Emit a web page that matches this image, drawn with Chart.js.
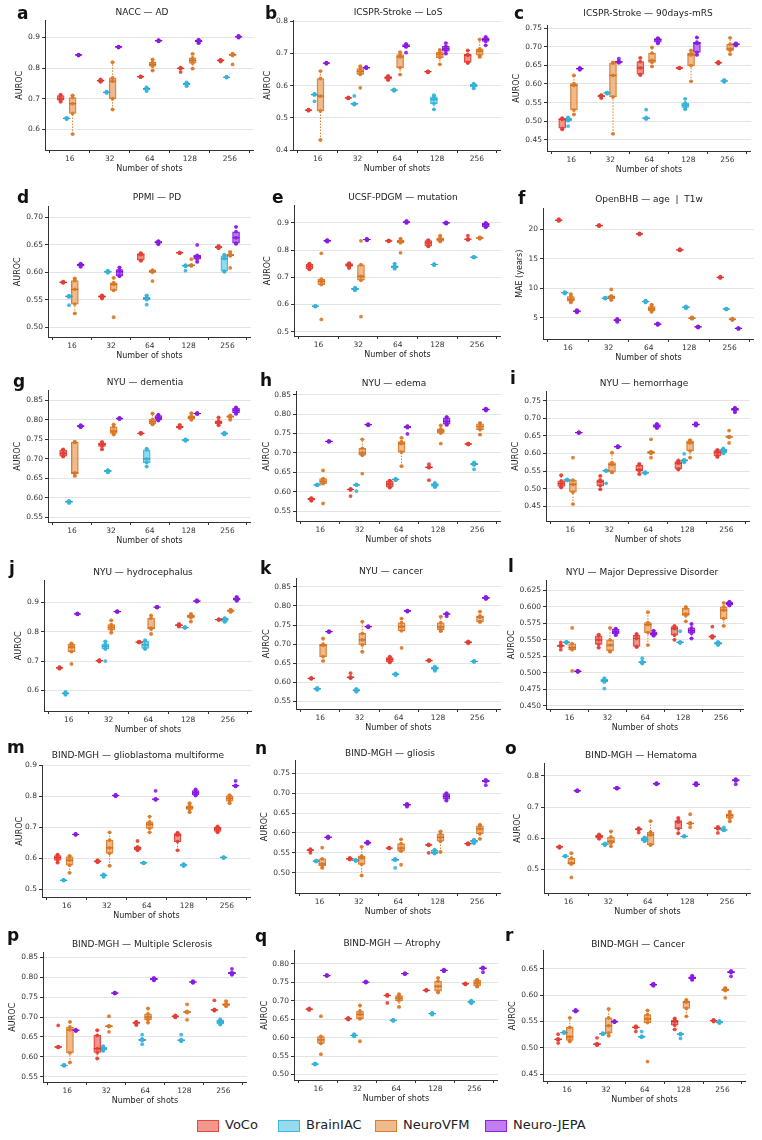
<!DOCTYPE html>
<html><head><meta charset="utf-8">
<script src="https://cdn.jsdelivr.net/npm/chart.js@4.4.0/dist/chart.umd.min.js"></script>
<style>
body{margin:0;background:#fff;width:762px;height:1140px;position:relative;overflow:hidden;font-family:'DejaVu Sans',sans-serif}
.pane{position:absolute}
.ttl{position:absolute;font-size:9px;color:#222;white-space:pre;transform:translate(-50%,-50%)}
.ltr{position:absolute;font-size:17px;font-weight:bold;color:#111;transform:translateY(-50%);line-height:1}
.lg{position:absolute;top:1120px;height:12px}
.lgbox{position:absolute;left:0;top:0;width:20px;height:10px;border:1px solid}
.lgtxt{position:absolute;left:28px;top:-3px;font-size:13px;color:#222;white-space:nowrap;line-height:16px}
</style></head>
<body>
<script>
const categories = ['16','32','64','128','256'];
const seriesNames = ['VoCo','BrainIAC','NeuroVFM','Neuro-JEPA'];
const panelLetters = ['a','b','c','d','e','f','g','h','i','j','k','l','m','n','o','p','q','r'];
const panelTitles = ['NACC — AD','ICSPR-Stroke — LoS','ICSPR-Stroke — 90days-mRS','PPMI — PD','UCSF-PDGM — mutation','OpenBHB — age  |  T1w','NYU — dementia','NYU — edema','NYU — hemorrhage','NYU — hydrocephalus','NYU — cancer','NYU — Major Depressive Disorder','BIND-MGH — glioblastoma multiforme','BIND-MGH — gliosis','BIND-MGH — Hematoma','BIND-MGH — Multiple Sclerosis','BIND-MGH — Atrophy','BIND-MGH — Cancer'];
const yAxisTitles = ['AUROC','AUROC','AUROC','AUROC','AUROC','MAE (years)','AUROC','AUROC','AUROC','AUROC','AUROC','AUROC','AUROC','AUROC','AUROC','AUROC','AUROC','AUROC'];
const yRanges = [[0.533,0.955],[0.4,0.802],[0.42,0.757],[0.482,0.72],[0.484,0.964],[1.4,23.5],[0.538,0.875],[0.525,0.858],[0.408,0.776],[0.53,0.974],[0.53,0.872],[0.445,0.64],[0.475,0.9],[0.449,0.782],[0.424,0.84],[0.537,0.862],[0.485,0.836],[0.437,0.685]];
const yTickLists = [
 [0.6,0.7,0.8,0.9],[0.4,0.5,0.6,0.7,0.8],[0.45,0.5,0.55,0.6,0.65,0.7,0.75],[0.5,0.55,0.6,0.65,0.7],[0.5,0.6,0.7,0.8,0.9],[5,10,15,20],
 [0.55,0.6,0.65,0.7,0.75,0.8,0.85],[0.55,0.6,0.65,0.7,0.75,0.8,0.85],[0.45,0.5,0.55,0.6,0.65,0.7,0.75],[0.6,0.7,0.8,0.9],[0.55,0.6,0.65,0.7,0.75,0.8,0.85],[0.45,0.475,0.5,0.525,0.55,0.575,0.6,0.625],
 [0.5,0.6,0.7,0.8,0.9],[0.5,0.55,0.6,0.65,0.7,0.75],[0.5,0.6,0.7,0.8],[0.55,0.6,0.65,0.7,0.75,0.8,0.85],[0.5,0.55,0.6,0.65,0.7,0.75,0.8],[0.45,0.5,0.55,0.6,0.65]];
const yDecimals = [1,1,2,2,1,0,2,2,2,1,2,3,1,2,1,2,2,2];

// Per-run values (5 runs): [series][category][run]
const runsA = [
 [[0.69,0.695,0.70,0.71,0.713],[0.755,0.757,0.759,0.761,0.763],[0.771,0.771,0.772,0.772,0.773],[0.787,0.798,0.799,0.80,0.801],[0.821,0.823,0.825,0.826,0.827]],
 [[0.634,0.635,0.636,0.637,0.638],[0.719,0.72,0.721,0.722,0.723],[0.725,0.73,0.733,0.735,0.737],[0.741,0.746,0.749,0.751,0.753],[0.769,0.77,0.77,0.771,0.771]],
 [[0.585,0.652,0.684,0.704,0.711],[0.665,0.70,0.757,0.768,0.819],[0.792,0.806,0.812,0.819,0.828],[0.798,0.816,0.825,0.833,0.846],[0.812,0.841,0.843,0.845,0.847]],
 [[0.841,0.842,0.843,0.843,0.844],[0.867,0.868,0.869,0.87,0.87],[0.887,0.888,0.889,0.89,0.891],[0.881,0.885,0.887,0.89,0.893],[0.899,0.901,0.902,0.903,0.905]]];
const runsB = [
 [[0.522,0.523,0.524,0.524,0.525],[0.56,0.561,0.562,0.562,0.563],[0.617,0.62,0.625,0.628,0.63],[0.641,0.642,0.643,0.643,0.644],[0.67,0.672,0.694,0.697,0.709]],
 [[0.551,0.571,0.572,0.573,0.574],[0.541,0.542,0.543,0.545,0.568],[0.584,0.585,0.586,0.587,0.588],[0.526,0.544,0.557,0.565,0.57],[0.591,0.596,0.601,0.604,0.606]],
 [[0.431,0.521,0.567,0.622,0.645],[0.593,0.635,0.644,0.653,0.66],[0.634,0.655,0.689,0.696,0.704],[0.666,0.687,0.697,0.704,0.711],[0.689,0.694,0.707,0.714,0.743]],
 [[0.668,0.669,0.67,0.67,0.671],[0.654,0.655,0.656,0.657,0.657],[0.702,0.72,0.722,0.727,0.729],[0.699,0.707,0.714,0.722,0.732],[0.725,0.737,0.743,0.748,0.751]]];
const runsC = [
 [[0.478,0.481,0.505,0.507,0.508],[0.562,0.566,0.568,0.569,0.57],[0.624,0.626,0.643,0.66,0.67],[0.642,0.642,0.643,0.643,0.643],[0.655,0.656,0.657,0.658,0.659]],
 [[0.487,0.501,0.504,0.508,0.51],[0.574,0.575,0.576,0.576,0.577],[0.506,0.507,0.508,0.51,0.531],[0.532,0.537,0.543,0.549,0.56],[0.606,0.607,0.608,0.609,0.611]],
 [[0.518,0.53,0.596,0.601,0.623],[0.466,0.565,0.623,0.656,0.658],[0.647,0.658,0.663,0.683,0.698],[0.607,0.649,0.678,0.682,0.69],[0.68,0.69,0.694,0.707,0.724]],
 [[0.638,0.64,0.641,0.642,0.643],[0.657,0.658,0.659,0.661,0.668],[0.709,0.712,0.719,0.722,0.723],[0.678,0.685,0.709,0.712,0.725],[0.703,0.705,0.707,0.708,0.709]]];
const runsD = [
 [[0.581,0.581,0.582,0.582,0.583],[0.552,0.554,0.556,0.557,0.558],[0.621,0.622,0.632,0.634,0.635],[0.635,0.635,0.636,0.636,0.636],[0.644,0.645,0.646,0.647,0.648]],
 [[0.54,0.555,0.556,0.557,0.557],[0.599,0.6,0.601,0.602,0.603],[0.541,0.55,0.552,0.555,0.558],[0.603,0.611,0.612,0.612,0.613],[0.601,0.602,0.625,0.63,0.632]],
 [[0.525,0.542,0.569,0.585,0.589],[0.518,0.567,0.578,0.581,0.59],[0.584,0.6,0.602,0.603,0.604],[0.612,0.612,0.613,0.613,0.624],[0.608,0.63,0.631,0.633,0.637]],
 [[0.61,0.612,0.614,0.615,0.616],[0.593,0.594,0.601,0.605,0.609],[0.651,0.653,0.655,0.656,0.657],[0.619,0.624,0.628,0.631,0.65],[0.652,0.653,0.663,0.674,0.683]]];
const runsE = [
 [[0.729,0.731,0.74,0.748,0.75],[0.734,0.74,0.745,0.75,0.752],[0.832,0.833,0.834,0.835,0.836],[0.814,0.815,0.826,0.835,0.837],[0.838,0.839,0.84,0.84,0.853]],
 [[0.592,0.593,0.594,0.594,0.595],[0.652,0.654,0.657,0.66,0.662],[0.731,0.735,0.739,0.742,0.75],[0.745,0.746,0.747,0.747,0.748],[0.773,0.773,0.774,0.774,0.775]],
 [[0.545,0.673,0.685,0.693,0.788],[0.555,0.689,0.703,0.746,0.834],[0.79,0.827,0.831,0.836,0.842],[0.832,0.833,0.839,0.845,0.853],[0.842,0.843,0.845,0.846,0.847]],
 [[0.831,0.833,0.834,0.836,0.837],[0.836,0.837,0.839,0.84,0.841],[0.9,0.902,0.903,0.905,0.907],[0.897,0.899,0.9,0.901,0.902],[0.884,0.886,0.894,0.898,0.9]]];
const runsF = [
 [[21.4,21.5,21.5,21.6,21.7],[20.5,20.6,20.6,20.7,20.7],[19.1,19.15,19.2,19.25,19.3],[16.4,16.45,16.5,16.55,16.6],[11.75,11.8,11.85,11.9,11.95]],
 [[9.1,9.2,9.25,9.3,9.35],[8.25,8.3,8.3,8.35,8.4],[7.6,7.7,7.75,7.8,7.9],[6.6,6.7,6.8,6.85,6.9],[6.4,6.45,6.5,6.5,6.55]],
 [[7.6,7.8,8.1,8.6,9.0],[8.0,8.2,8.55,8.7,9.8],[6.0,6.2,6.5,6.9,7.2],[4.85,4.9,4.95,5.0,5.05],[4.6,4.7,4.75,4.8,4.85]],
 [[5.9,6.0,6.1,6.2,6.3],[4.3,4.5,4.6,4.7,4.8],[3.8,3.85,3.9,4.0,4.05],[3.35,3.4,3.45,3.5,3.55],[3.1,3.15,3.2,3.2,3.25]]];
const runsG = [
 [[0.706,0.707,0.714,0.722,0.724],[0.724,0.732,0.737,0.741,0.743],[0.764,0.765,0.765,0.766,0.767],[0.779,0.78,0.782,0.784,0.787],[0.786,0.79,0.794,0.797,0.806]],
 [[0.587,0.588,0.59,0.591,0.592],[0.665,0.667,0.669,0.67,0.671],[0.68,0.69,0.7,0.723,0.726],[0.746,0.747,0.748,0.749,0.75],[0.762,0.763,0.765,0.766,0.767]],
 [[0.656,0.662,0.664,0.742,0.744],[0.762,0.765,0.771,0.782,0.788],[0.788,0.79,0.795,0.801,0.816],[0.8,0.802,0.806,0.81,0.817],[0.8,0.806,0.809,0.81,0.811]],
 [[0.781,0.782,0.784,0.785,0.786],[0.802,0.803,0.803,0.804,0.805],[0.798,0.8,0.805,0.811,0.813],[0.815,0.815,0.816,0.817,0.817],[0.815,0.818,0.824,0.83,0.832]]];
const runsH = [
 [[0.577,0.579,0.581,0.583,0.584],[0.589,0.605,0.606,0.607,0.607],[0.611,0.612,0.62,0.628,0.629],[0.63,0.662,0.663,0.664,0.671],[0.722,0.722,0.723,0.724,0.724]],
 [[0.617,0.617,0.618,0.618,0.619],[0.602,0.617,0.618,0.618,0.619],[0.63,0.631,0.632,0.633,0.633],[0.612,0.614,0.618,0.621,0.623],[0.658,0.669,0.671,0.673,0.676]],
 [[0.57,0.621,0.627,0.634,0.655],[0.647,0.694,0.7,0.712,0.735],[0.666,0.702,0.724,0.729,0.739],[0.724,0.751,0.757,0.762,0.771],[0.747,0.76,0.768,0.775,0.777]],
 [[0.729,0.729,0.73,0.73,0.731],[0.771,0.772,0.773,0.773,0.774],[0.749,0.765,0.767,0.768,0.769],[0.772,0.774,0.781,0.79,0.793],[0.809,0.81,0.812,0.813,0.814]]];
const runsI = [
 [[0.503,0.506,0.514,0.522,0.538],[0.498,0.508,0.52,0.525,0.536],[0.541,0.55,0.554,0.567,0.57],[0.554,0.556,0.572,0.577,0.58],[0.59,0.593,0.603,0.608,0.61]],
 [[0.523,0.524,0.525,0.525,0.526],[0.515,0.55,0.551,0.551,0.552],[0.543,0.544,0.545,0.546,0.547],[0.575,0.578,0.58,0.582,0.599],[0.6,0.602,0.607,0.612,0.614]],
 [[0.456,0.49,0.512,0.524,0.588],[0.546,0.547,0.568,0.574,0.602],[0.588,0.6,0.603,0.605,0.64],[0.588,0.607,0.63,0.636,0.638],[0.63,0.646,0.647,0.648,0.665]],
 [[0.658,0.659,0.659,0.66,0.66],[0.617,0.618,0.619,0.62,0.621],[0.672,0.674,0.678,0.682,0.684],[0.679,0.681,0.682,0.684,0.686],[0.717,0.722,0.725,0.728,0.73]]];
const runsJ = [
 [[0.674,0.676,0.677,0.678,0.679],[0.698,0.7,0.701,0.702,0.703],[0.763,0.764,0.764,0.765,0.766],[0.817,0.82,0.822,0.824,0.826],[0.84,0.841,0.841,0.842,0.842]],
 [[0.585,0.588,0.59,0.592,0.595],[0.7,0.741,0.75,0.758,0.767],[0.741,0.743,0.755,0.768,0.771],[0.813,0.814,0.814,0.815,0.815],[0.833,0.835,0.842,0.845,0.846]],
 [[0.69,0.732,0.747,0.757,0.76],[0.796,0.806,0.815,0.824,0.838],[0.792,0.809,0.812,0.846,0.855],[0.834,0.847,0.853,0.857,0.86],[0.867,0.869,0.871,0.873,0.875]],
 [[0.859,0.86,0.86,0.861,0.862],[0.867,0.868,0.868,0.869,0.87],[0.882,0.883,0.883,0.884,0.884],[0.902,0.903,0.904,0.905,0.907],[0.905,0.907,0.911,0.915,0.918]]];
const runsK = [
 [[0.609,0.61,0.61,0.611,0.611],[0.611,0.612,0.613,0.614,0.624],[0.652,0.654,0.66,0.665,0.667],[0.656,0.657,0.657,0.658,0.658],[0.702,0.704,0.705,0.706,0.707]],
 [[0.58,0.582,0.583,0.584,0.585],[0.575,0.577,0.579,0.581,0.583],[0.619,0.62,0.621,0.622,0.623],[0.63,0.634,0.637,0.639,0.641],[0.654,0.654,0.655,0.655,0.656]],
 [[0.656,0.667,0.697,0.7,0.715],[0.68,0.698,0.711,0.728,0.759],[0.69,0.735,0.746,0.756,0.767],[0.734,0.737,0.745,0.756,0.772],[0.758,0.759,0.771,0.774,0.785]],
 [[0.732,0.732,0.733,0.733,0.734],[0.744,0.745,0.746,0.746,0.747],[0.785,0.786,0.787,0.788,0.788],[0.773,0.778,0.779,0.78,0.781],[0.818,0.82,0.821,0.823,0.824]]];
const runsL = [
 [[0.535,0.54,0.541,0.542,0.546],[0.538,0.543,0.55,0.556,0.558],[0.539,0.54,0.552,0.557,0.559],[0.55,0.557,0.567,0.57,0.571],[0.553,0.554,0.555,0.556,0.57]],
 [[0.545,0.546,0.546,0.547,0.547],[0.476,0.486,0.488,0.49,0.492],[0.514,0.515,0.516,0.517,0.522],[0.545,0.546,0.546,0.547,0.563],[0.542,0.543,0.545,0.546,0.547]],
 [[0.503,0.535,0.538,0.544,0.568],[0.532,0.533,0.542,0.55,0.568],[0.542,0.561,0.573,0.576,0.592],[0.578,0.587,0.589,0.598,0.6],[0.571,0.582,0.595,0.6,0.606]],
 [[0.501,0.502,0.502,0.503,0.503],[0.557,0.559,0.562,0.566,0.567],[0.556,0.557,0.559,0.562,0.564],[0.552,0.56,0.564,0.568,0.574],[0.602,0.603,0.605,0.607,0.608]]];
const runsM = [
 [[0.586,0.594,0.602,0.609,0.612],[0.587,0.589,0.59,0.592,0.594],[0.626,0.628,0.634,0.637,0.656],[0.626,0.654,0.675,0.68,0.683],[0.684,0.687,0.695,0.7,0.703]],
 [[0.528,0.529,0.529,0.53,0.53],[0.54,0.543,0.545,0.547,0.548],[0.584,0.585,0.585,0.586,0.586],[0.575,0.577,0.578,0.58,0.581],[0.601,0.602,0.603,0.603,0.604]],
 [[0.553,0.578,0.594,0.605,0.608],[0.576,0.616,0.634,0.659,0.684],[0.684,0.697,0.71,0.718,0.735],[0.749,0.758,0.764,0.77,0.778],[0.778,0.785,0.794,0.802,0.804]],
 [[0.676,0.677,0.677,0.678,0.679],[0.801,0.802,0.803,0.804,0.805],[0.789,0.79,0.791,0.792,0.818],[0.803,0.805,0.812,0.819,0.823],[0.833,0.834,0.835,0.836,0.85]]];
const runsN = [
 [[0.55,0.556,0.557,0.558,0.559],[0.533,0.534,0.535,0.536,0.537],[0.561,0.562,0.562,0.562,0.563],[0.55,0.569,0.57,0.57,0.571],[0.571,0.572,0.573,0.573,0.574]],
 [[0.528,0.529,0.529,0.53,0.53],[0.53,0.53,0.531,0.531,0.532],[0.512,0.531,0.533,0.534,0.535],[0.548,0.549,0.55,0.556,0.558],[0.574,0.576,0.58,0.582,0.583]],
 [[0.512,0.518,0.522,0.535,0.563],[0.493,0.521,0.537,0.542,0.565],[0.52,0.554,0.562,0.573,0.584],[0.552,0.579,0.589,0.598,0.604],[0.585,0.598,0.61,0.618,0.621]],
 [[0.587,0.588,0.589,0.59,0.591],[0.573,0.574,0.575,0.577,0.578],[0.666,0.669,0.671,0.672,0.673],[0.681,0.685,0.692,0.698,0.7],[0.72,0.729,0.731,0.732,0.733]]];
const runsO = [
 [[0.569,0.571,0.572,0.573,0.574],[0.598,0.601,0.606,0.61,0.612],[0.618,0.627,0.629,0.63,0.632],[0.616,0.63,0.652,0.657,0.665],[0.617,0.63,0.632,0.634,0.636]],
 [[0.541,0.542,0.542,0.543,0.543],[0.578,0.579,0.581,0.582,0.583],[0.59,0.592,0.597,0.601,0.603],[0.605,0.606,0.606,0.607,0.607],[0.625,0.626,0.627,0.628,0.635]],
 [[0.474,0.517,0.52,0.536,0.552],[0.574,0.584,0.59,0.604,0.622],[0.578,0.579,0.611,0.62,0.655],[0.635,0.646,0.648,0.649,0.677],[0.654,0.664,0.673,0.678,0.685]],
 [[0.751,0.752,0.752,0.753,0.754],[0.759,0.76,0.761,0.762,0.762],[0.773,0.774,0.775,0.776,0.777],[0.77,0.772,0.773,0.775,0.778],[0.773,0.784,0.786,0.788,0.79]]];
const runsP = [
 [[0.624,0.624,0.625,0.626,0.679],[0.596,0.611,0.621,0.654,0.667],[0.68,0.684,0.686,0.687,0.688],[0.699,0.701,0.702,0.703,0.704],[0.716,0.717,0.718,0.719,0.742]],
 [[0.578,0.578,0.579,0.579,0.58],[0.615,0.617,0.62,0.624,0.627],[0.632,0.641,0.643,0.645,0.656],[0.639,0.641,0.642,0.643,0.656],[0.681,0.683,0.688,0.692,0.694]],
 [[0.586,0.61,0.668,0.675,0.688],[0.663,0.676,0.677,0.678,0.702],[0.686,0.693,0.7,0.708,0.722],[0.693,0.711,0.713,0.714,0.732],[0.727,0.729,0.731,0.734,0.74]],
 [[0.665,0.666,0.667,0.667,0.668],[0.759,0.76,0.76,0.761,0.761],[0.792,0.794,0.796,0.797,0.798],[0.786,0.787,0.788,0.789,0.79],[0.806,0.808,0.81,0.812,0.821]]];
const runsQ = [
 [[0.675,0.676,0.677,0.678,0.679],[0.649,0.65,0.651,0.652,0.653],[0.694,0.713,0.714,0.715,0.716],[0.727,0.728,0.728,0.729,0.729],[0.744,0.745,0.746,0.746,0.747]],
 [[0.527,0.528,0.528,0.529,0.529],[0.603,0.605,0.606,0.607,0.609],[0.645,0.646,0.647,0.647,0.648],[0.662,0.664,0.665,0.666,0.667],[0.693,0.695,0.697,0.699,0.7]],
 [[0.555,0.584,0.594,0.603,0.658],[0.59,0.651,0.663,0.672,0.687],[0.683,0.7,0.707,0.714,0.718],[0.722,0.726,0.739,0.753,0.762],[0.738,0.74,0.748,0.755,0.757]],
 [[0.767,0.768,0.768,0.769,0.769],[0.749,0.75,0.75,0.751,0.752],[0.772,0.773,0.773,0.774,0.774],[0.78,0.781,0.782,0.783,0.784],[0.777,0.787,0.788,0.789,0.79]]];
const runsR = [
 [[0.509,0.515,0.516,0.517,0.526],[0.505,0.506,0.507,0.508,0.519],[0.531,0.538,0.539,0.54,0.541],[0.535,0.543,0.55,0.553,0.556],[0.55,0.551,0.552,0.552,0.553]],
 [[0.528,0.529,0.529,0.53,0.53],[0.526,0.526,0.527,0.527,0.528],[0.52,0.521,0.521,0.522,0.531],[0.518,0.525,0.526,0.527,0.527],[0.547,0.548,0.549,0.55,0.551]],
 [[0.512,0.514,0.521,0.539,0.557],[0.523,0.528,0.542,0.557,0.574],[0.474,0.548,0.555,0.563,0.571],[0.56,0.575,0.587,0.589,0.591],[0.595,0.609,0.61,0.612,0.614]],
 [[0.569,0.57,0.57,0.571,0.572],[0.549,0.549,0.55,0.55,0.551],[0.618,0.619,0.62,0.621,0.622],[0.629,0.631,0.633,0.635,0.637],[0.636,0.643,0.644,0.645,0.646]]];
const panelRuns = [runsA,runsB,runsC,runsD,runsE,runsF,runsG,runsH,runsI,runsJ,runsK,runsL,runsM,runsN,runsO,runsP,runsQ,runsR];

// ---- layout (page pixels): plot L,T,R,B, y-title x, title x,y, letter x,y
const layout = [
 [45,20,255,150,20,142,12,17,13],[293,20,502,150,268,398,12,265,13],[547,25,752,151,517,648,13,514,13],
 [48,206,252,337,18,157,197,17,197],[294,205,502,336,268,403,197,272,197],[543,208,755,339,520,649,199,518,198],
 [48,390,252,522,18,145,382,13,381],[296,391,502,521,267,394,383,260,380],[546,391,751,521,516,644,383,510,378],
 [44,580,253,711,19,143,572,9,568],[296,578,502,709,267,391,571,260,568],[546,580,745,709,512,642,572,508,566],
 [42,765,252,897,20,138,755,7,747],[295,760,502,893,265,390,753,255,748],[544,763,752,893,518,641,755,505,748],
 [43,952,248,1082,13,142,944,7,935],[294,950,499,1080,265,392,943,255,936],[543,950,747,1081,513,638,944,505,935]];

const COLORS = [
 {fill:'rgba(240,120,108,0.78)', edge:'#e5483f', dot:'rgba(229,62,52,0.9)', med:'#c8362d'},
 {fill:'rgba(120,208,232,0.78)', edge:'#3fb9dc', dot:'rgba(52,180,218,0.9)', med:'#2a9cc0'},
 {fill:'rgba(234,168,110,0.78)', edge:'#dc7d2c', dot:'rgba(220,120,38,0.9)', med:'#bf661c'},
 {fill:'rgba(176,90,240,0.78)', edge:'#8e20e6', dot:'rgba(140,25,230,0.9)', med:'#6e10bc'}];
const OFFSETS = [-0.23,-0.08,0.07,0.22];
const FONT = "'DejaVu Sans', sans-serif";
Chart.defaults.font.family = FONT;

function boxStats(vals){
  const s = vals.slice().sort((p,q)=>p-q);
  const q1=s[1], med=s[2], q3=s[3], iqr=q3-q1;
  const inLo = s.filter(v=>v>=q1-1.5*iqr-1e-9);
  const inHi = s.filter(v=>v<=q3+1.5*iqr+1e-9);
  return {s,q1,med,q3,lo:inLo[0],hi:inHi[inHi.length-1]};
}

function makeDatasets(runs){
  const ds=[];
  runs.forEach((seriesRuns,s)=>{
    const st = seriesRuns.map(boxStats);
    const xs = categories.map((_,i)=>i+OFFSETS[s]);
    const c = COLORS[s];
    ds.push({type:'scatter',label:seriesNames[s],data:st.flatMap((b,i)=>b.s.map(v=>({x:xs[i],y:v}))),
      pointRadius:1.9,pointBackgroundColor:c.dot,pointBorderWidth:0,order:0});
    ds.push({type:'scatter',data:st.map((b,i)=>({x:xs[i],y:b.med})),pointStyle:'line',pointRadius:3.5,
      pointBorderWidth:1.2,pointBorderColor:c.med,order:1});
    ds.push({type:'scatter',data:st.flatMap((b,i)=>[{x:xs[i],y:b.lo},{x:xs[i],y:b.hi}]),pointStyle:'line',
      pointRadius:2,pointBorderWidth:1,pointBorderColor:c.edge,order:2});
    ds.push({type:'scatter',showLine:true,spanGaps:false,pointRadius:0,borderColor:c.edge,borderWidth:1,borderDash:[1.5,1.5],
      data:st.flatMap((b,i)=>[{x:xs[i],y:b.lo},{x:xs[i],y:b.q1},{x:xs[i],y:null},{x:xs[i],y:b.q3},{x:xs[i],y:b.hi},{x:xs[i],y:null}]),order:3});
    ds.push({type:'bar',data:st.map((b,i)=>({x:xs[i],y:[b.q1,b.q3]})),backgroundColor:c.fill,borderColor:c.edge,
      borderWidth:1,borderSkipped:false,barThickness:7,grouped:false,order:4});
  });
  return ds;
}

const PADT=6, PADR=4, XH=28;
panelRuns.forEach((runs,p)=>{
  const [L,T,R,B,ytx,tx,ty,lx,ly] = layout[p];
  const divLeft = ytx-7, yw = L-divLeft;
  const w = R-divLeft+PADR, h = B-T+PADT+XH;
  const wrap = document.createElement('div');
  wrap.className='pane';
  wrap.style.cssText=`left:${divLeft}px;top:${T-PADT}px;width:${w}px;height:${h}px`;
  const cv = document.createElement('canvas');
  cv.width=w; cv.height=h; cv.style.width=w+'px'; cv.style.height=h+'px';
  wrap.appendChild(cv); document.body.appendChild(wrap);

  const t = document.createElement('div'); t.className='ttl'; t.textContent=panelTitles[p];
  t.style.left=tx+'px'; t.style.top=ty+'px'; document.body.appendChild(t);
  const lt = document.createElement('div'); lt.className='ltr'; lt.textContent=panelLetters[p];
  lt.style.left=lx+'px'; lt.style.top=ly+'px'; document.body.appendChild(lt);

  const ticks = yTickLists[p], dec = yDecimals[p];
  new Chart(cv,{
    type:'scatter',
    data:{datasets:makeDatasets(runs)},
    options:{
      responsive:false,animation:false,devicePixelRatio:1,events:[],
      layout:{padding:{top:PADT,right:PADR,left:0,bottom:0}},
      plugins:{legend:{display:false},tooltip:{enabled:false},title:{display:false}},
      scales:{
        x:{type:'linear',min:-0.62,max:4.6,offset:false,
          afterBuildTicks:s=>{s.ticks=categories.map((_,i)=>({value:i}));},
          afterFit:s=>{s.height=XH;},
          ticks:{callback:v=>categories[v],font:{size:7.5,family:FONT},color:'#333',padding:2,maxRotation:0,autoSkip:false},
          grid:{display:true,drawOnChartArea:false,drawTicks:true,tickLength:3,tickColor:'#333',tickWidth:1},
          border:{display:true,color:'#333',width:1},
          title:{display:true,text:'Number of shots',font:{size:8,family:FONT},color:'#222',padding:{top:0,bottom:4}}},
        y:{type:'linear',min:yRanges[p][0],max:yRanges[p][1],
          afterBuildTicks:s=>{s.ticks=ticks.map(v=>({value:v}));},
          afterFit:s=>{s.width=yw;},
          ticks:{callback:v=>Number(v).toFixed(dec),font:{size:7.5,family:FONT},color:'#333',padding:2},
          grid:{color:'#e4e4e4',lineWidth:1,drawTicks:true,tickLength:3,tickColor:'#333'},
          border:{display:true,color:'#333',width:1},
          title:{display:true,text:yAxisTitles[p],font:{size:8,family:FONT},color:'#222',padding:{top:2,bottom:0}}}
      }
    }
  });
});

// legend
const legendLefts=[197,278,375,485];
seriesNames.forEach((n,s)=>{
  const d=document.createElement('div'); d.className='lg'; d.style.left=legendLefts[s]+'px';
  const b=document.createElement('div'); b.className='lgbox'; b.style.background=COLORS[s].fill; b.style.borderColor=COLORS[s].edge;
  const tx=document.createElement('div'); tx.className='lgtxt'; tx.textContent=n;
  d.appendChild(b); d.appendChild(tx); document.body.appendChild(d);
});
</script>
</body></html>
